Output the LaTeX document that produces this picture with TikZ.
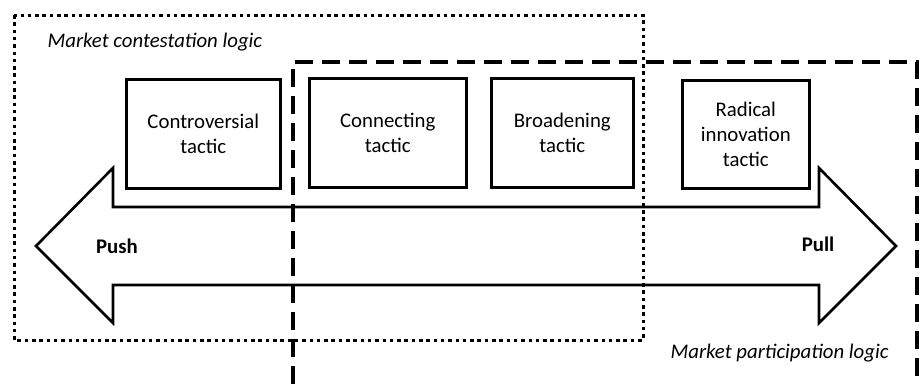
\documentclass[tikz,border=0pt]{standalone}
\usepackage{fontspec}
\setmainfont{Carlito}
\usepackage{tikz}
\usetikzlibrary{calc}
\tikzstyle{tactic} = [rectangle, draw=black, line width=2.6pt, minimum height=109pt, align=center, inner sep=0pt]
\tikzstyle{logic} = [anchor=west]
\tikzstyle{contest} = [line width=3pt, dash pattern=on 3.5pt off 3.8pt]
\tikzstyle{partic} = [line width=3.4pt, dash pattern=on 18pt off 9pt]

\begin{document}
\begin{tikzpicture}[x=1pt, y=-1pt, font=\fontsize{20.8}{25}\selectfont]

        \useasboundingbox (0,0) rectangle (922,384);

        % push / pull arrow
        \draw[line width=2.6pt, line join=miter] (36,246) -- (113,168) -- (113,207) -- (819,207) -- (819,168)
            -- (896,246) -- (819,323) -- (819,285) -- (113,285) -- (113,323) -- cycle;
        \node (push) at (117,246) {\textbf{Push}};
        \node (pull) at (818,244) {\textbf{Pull}};

        % tactics
        \node (controversial) [tactic, anchor=north west, minimum width=154pt] at (125,78) {Controversial\\tactic};
        \node (connecting) [tactic, anchor=north west, minimum width=157pt] at (308,77) {Connecting\\tactic};
        \node (broadening) [tactic, anchor=north west, minimum width=142pt] at (490,77) {Broadening\\tactic};
        \node (radical) [tactic, anchor=north west, minimum width=127pt, minimum height=108pt] at (681,79) {Radical\\innovation\\tactic};

        % logics
        \draw[contest] (14,15) rectangle (643,340);
        \draw[partic] (293,384) -- (293,62) -- (917,62) -- (917,384);
        \node (contestation) [logic] at (44,42) {\textit{Market contestation logic}};
        \node (participation) [logic] at (667,353) {\textit{Market participation logic}};

    \end{tikzpicture}
\end{document}
